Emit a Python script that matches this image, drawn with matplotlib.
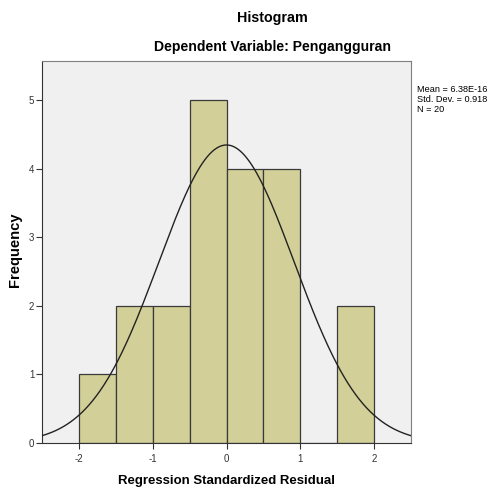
import matplotlib.pyplot as plt
import numpy as np

plt.rcParams['font.family'] = ['Liberation Sans', 'DejaVu Sans']
plt.rcParams['axes.unicode_minus'] = False

bin_left = [-2.0, -1.5, -1.0, -0.5, 0.0, 0.5, 1.0, 1.5]
counts = [1, 2, 2, 5, 4, 4, 0, 2]
bin_width = 0.5
mean = 6.38e-16
std_dev = 0.918
n = 20

fig = plt.figure(figsize=(4.92, 4.91), dpi=100)
ax = fig.add_axes([42 / 492, 1 - 443 / 491, (411 - 42) / 492, (443 - 61) / 491])
ax.set_facecolor('#f0f0f0')

ax.bar(bin_left, counts, width=bin_width, align='edge',
       color='#d3cf98', edgecolor='#3a3a3a', linewidth=0.9, zorder=2)

# normal curve scaled to counts
xs = np.linspace(-2.5, 2.5, 300)
ys = n * bin_width * np.exp(-0.5 * ((xs - mean) / std_dev) ** 2) / (std_dev * np.sqrt(2 * np.pi))
ax.plot(xs, ys, color='#222222', linewidth=1.0, zorder=3)

ax.set_xlim(-2.5, 2.5)
ax.set_ylim(0, 5.57)
ax.set_xticks([-2, -1, 0, 1, 2])
ax.set_yticks([0, 1, 2, 3, 4, 5])
ax.tick_params(labelsize=7, colors='#333333', length=4, width=0.8, direction='out')
ax.tick_params(axis='y', pad=1.5)
ax.tick_params(axis='x', pad=4)
ax.tick_params(top=False, right=False)
for s in ['top', 'right']:
    ax.spines[s].set_color('#7f7f7f')
for s in ['left', 'bottom']:
    ax.spines[s].set_color('#333333')

ax.set_xlabel('Regression Standardized Residual', fontsize=9.5, fontweight='bold')
ax.set_ylabel('Frequency', fontsize=10.6, fontweight='bold')
ax.xaxis.label.set_va('center')
ax.yaxis.label.set_va('center')
ax.xaxis.set_label_coords((227 - 42) / 369, (443 - 481) / 382)
ax.yaxis.set_label_coords((15 - 42) / 369, (443 - 250) / 382)

fig.text(272 / 492, 1 - 18 / 491, 'Histogram', ha='center', va='center',
         fontsize=10.3, fontweight='bold')
fig.text(272 / 492, 1 - 47 / 491, 'Dependent Variable: Pengangguran', ha='center', va='center',
         fontsize=10.1, fontweight='bold')
fig.text(417 / 492, 1 - 85 / 491,
         'Mean = 6.38E-16\nStd. Dev. = 0.918\nN = 20',
         ha='left', va='top', fontsize=6.6, linespacing=1.12)

fig.savefig('out.png', dpi=100)
